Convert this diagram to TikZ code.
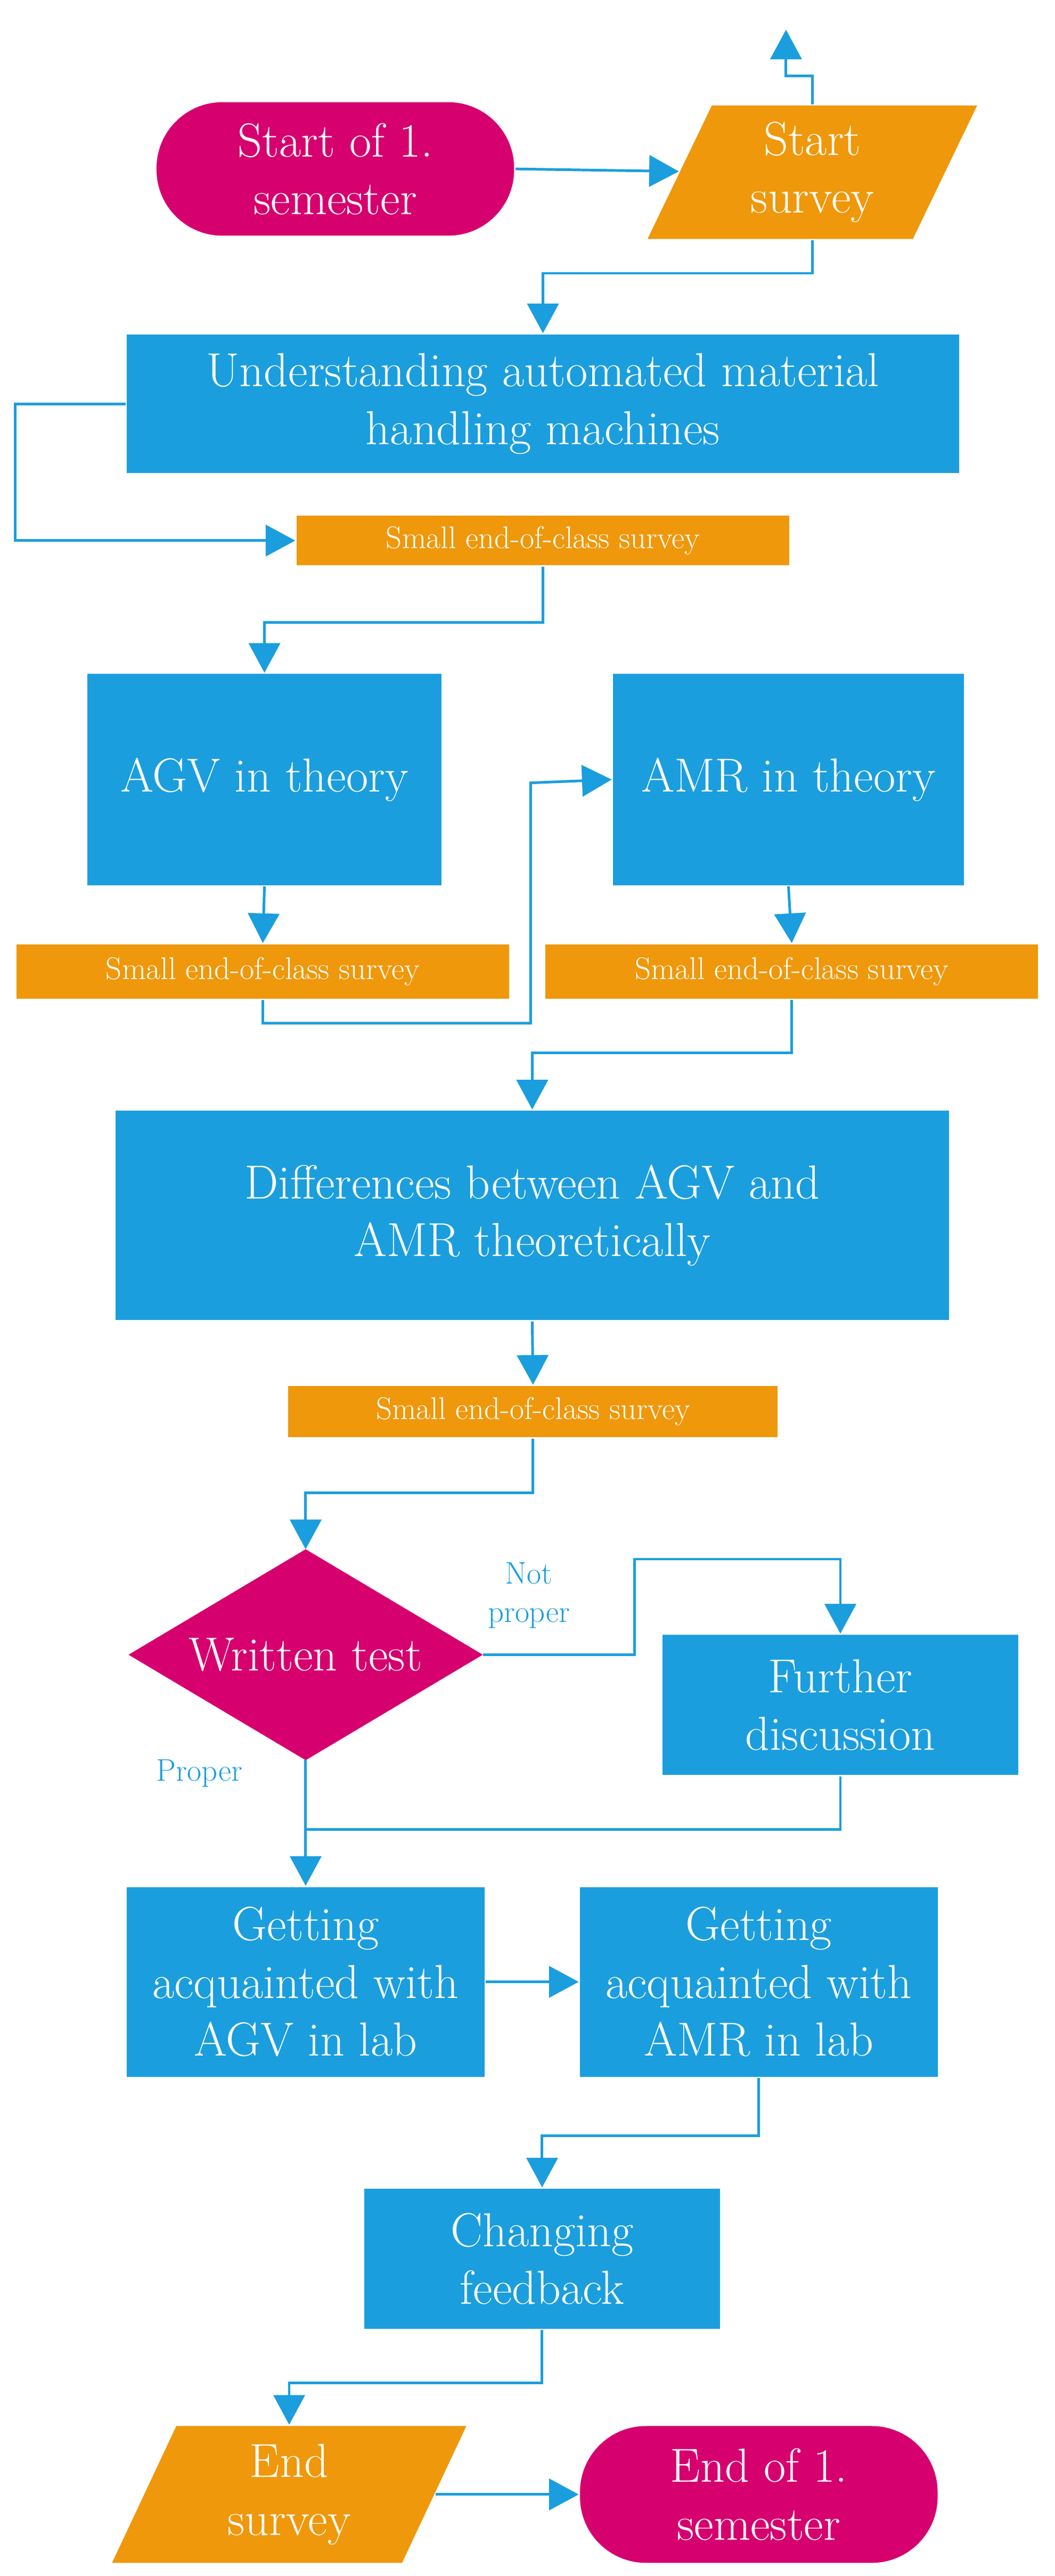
\documentclass[tikz,border=0pt]{standalone}
\usetikzlibrary{arrows.meta}
\definecolor{cblue}{RGB}{27,158,222}
\definecolor{corange}{RGB}{239,152,11}
\definecolor{cmag}{RGB}{214,0,110}
\tikzset{every picture/.style={line width=1.6pt}}
\begin{document}
\begin{tikzpicture}[x=1pt,y=-1pt,
  big/.style={font=\fontsize{29}{35}\selectfont, text=white, align=center, inner sep=0pt},
  box/.style={big, fill=cblue},
  pill/.style={big, fill=cmag, rounded corners=40pt},
  survey/.style={fill=corange, text=white, inner sep=0pt, font=\fontsize{19}{22}\selectfont},
  lbl/.style={text=cblue, align=center, font=\fontsize{19}{23}\selectfont},
  arr/.style={draw=cblue, -{Triangle[length=18pt,width=19pt]}},
  ln/.style={draw=cblue}]
\useasboundingbox (0,0) rectangle (640,1563);

% start / end
\node[pill, minimum width=217pt, minimum height=81pt] (start) at (203.5,102.5) {Start of 1.\\semester};
\fill[corange] (393,145) -- (432,64) -- (593,64) -- (554,145) -- cycle;
\node[big, minimum width=161pt, minimum height=81pt] (ssurv) at (493,104.5) {Start\\survey};
\coordinate (sin) at (412,104);
\coordinate (sup) at (477,18);

% boxes
\node[box, minimum width=505pt, minimum height=84pt] (under) at (329.5,245) {Understanding automated material\\handling machines};
\node[survey, minimum width=299pt, minimum height=30pt] (s1) at (329.5,328) {Small end-of-class survey};
\node[box, minimum width=215pt, minimum height=128pt] (agv) at (160.5,473) {AGV in theory};
\node[box, minimum width=213pt, minimum height=128pt] (amr) at (478.5,473) {AMR in theory};
\node[survey, minimum width=299pt, minimum height=33pt] (s2) at (159.5,589.5) {Small end-of-class survey};
\node[survey, minimum width=299pt, minimum height=33pt] (s3) at (480.5,589.5) {Small end-of-class survey};
\coordinate (j1) at (322,475);
\node[box, minimum width=506pt, minimum height=127pt] (diff) at (323,737.5) {Differences between AGV and\\AMR theoretically};
\node[survey, minimum width=297pt, minimum height=31pt] (s4) at (323.5,856.5) {Small end-of-class survey};

% test
\fill[cmag] (185.5,940) -- (293,1004) -- (185.5,1068) -- (78,1004) -- cycle;
\node[big] (test) at (185.5,1004) {Written test};
\coordinate (tn) at (185.5,940);
\coordinate (te) at (293,1004);
\coordinate (ts) at (185.5,1068);
\coordinate (j2) at (385,946);
\coordinate (j3) at (185.5,1110);
\node[box, minimum width=216pt, minimum height=85pt] (further) at (510,1034.5) {Further\\discussion};
\node[lbl] (notp) at (321,968) {Not\\proper};
\node[lbl] (prop) at (121,1076) {Proper};

\node[box, minimum width=217pt, minimum height=115pt] (gagv) at (185.5,1202.5) {Getting\\acquainted with\\AGV in lab};
\node[box, minimum width=217pt, minimum height=115pt] (gamr) at (460.5,1202.5) {Getting\\acquainted with\\AMR in lab};
\node[box, minimum width=216pt, minimum height=85pt] (chg) at (329,1370.5) {Changing\\feedback};

\fill[corange] (68,1555) -- (107,1472) -- (283,1472) -- (244,1555) -- cycle;
\node[big, minimum width=176pt, minimum height=83pt] (esurv) at (175.5,1513.5) {End\\survey};
\node[pill, minimum width=217pt, minimum height=83pt] (end) at (460.5,1513.5) {End of 1.\\semester};

% connectors
\draw[arr] (start.east) -- (sin);
\draw[arr] (ssurv.north) -- ++(0,-17) -| (sup);
\draw[arr] (ssurv.south) -- ++(0,20) -| (under.north);
\draw[arr] (under.west) -- ++(-67,0) |- (s1.west);
\draw[arr] (s1.south) -- ++(0,34) -| (agv.north);
\draw[arr] (agv.south) -- (s2.north);
\draw[arr] (amr.south) -- (s3.north);
\draw[arr] (s2.south) -- ++(0,14) -| (j1) -- (amr.west);
\draw[arr] (s3.south) -- ++(0,32) -| (diff.north);
\draw[arr] (diff.south) -- (s4.north);
\draw[arr] (s4.south) -- ++(0,33) -| (tn);
\draw[arr] (te) -| (j2) -| (further.north);
\draw[arr] (ts) -- (gagv.north);
\draw[ln] (further.south) |- (j3);
\draw[arr] (gagv.east) -- (gamr.west);
\draw[arr] (gamr.south) -- ++(0,35) -| (chg.north);
\draw[arr] (chg.south) -- ++(0,32) -| (esurv.north);
\draw[arr] (esurv.east) -- (end.west);
\end{tikzpicture}
\end{document}
